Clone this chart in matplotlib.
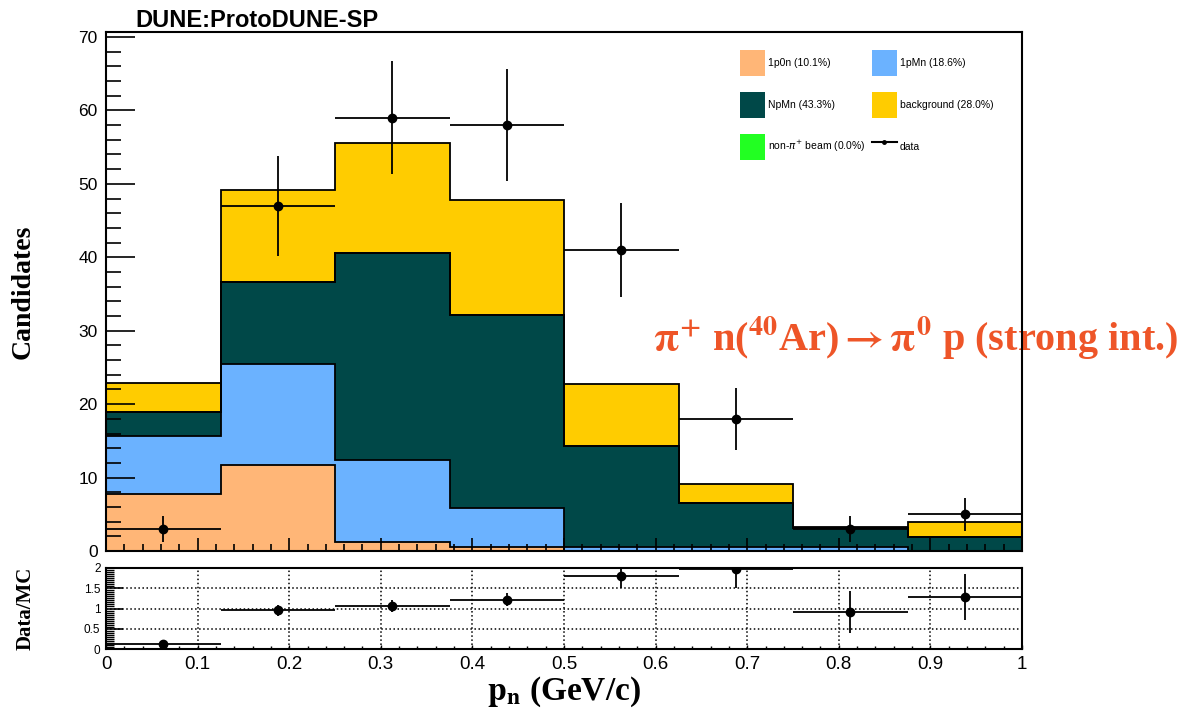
import matplotlib
matplotlib.use("Agg")
import matplotlib.pyplot as plt
import numpy as np
from matplotlib.patches import Patch
from matplotlib.lines import Line2D
from matplotlib.ticker import MultipleLocator, FuncFormatter


# p_n bins (GeV/c)
edges = np.linspace(0.0, 1.0, 9)

# per-component MC counts per bin
n_1p0n = [7.8, 11.7, 1.2, 0.6, 0.05, 0.0, 0.0, 0.0]
n_1pmn = [7.8, 13.8, 11.15, 5.2, 0.45, 0.5, 0.5, 0.0]
n_npmn = [3.3, 11.1, 28.25, 26.4, 13.8, 6.0, 2.6, 1.9]
n_bkg = [4.0, 12.5, 15.0, 15.6, 8.5, 2.6, 0.2, 2.0]
n_nonpi = [0.0, 0.0, 0.0, 0.0, 0.0, 0.0, 0.0, 0.0]

data = [3, 47, 59, 58, 41, 18, 3, 5]

names = ["1p0n (10.1%)", "1pMn (18.6%)", "NpMn (43.3%)",
         "background (28.0%)", "non-$\\pi^{+}$ beam (0.0%)"]
colors = ["#ffb677", "#6bb2ff", "#004848", "#ffcc00", "#22ff22"]

plt.rcParams["font.family"] = ["Liberation Sans", "DejaVu Sans"]

fig = plt.figure(figsize=(11.83, 7.12), dpi=100)
ax = fig.add_axes([106 / 1183, 1 - 551 / 712, 916 / 1183, 519 / 712])
rax = fig.add_axes([106 / 1183, 1 - 649 / 712, 916 / 1183, 81 / 712])

centers = 0.5 * (edges[:-1] + edges[1:])
halfw = 0.5 * np.diff(edges)

# stack: draw the top (cumulative) first, then each lower layer over it
layers = [n_1p0n, n_1pmn, n_npmn, n_nonpi, n_bkg]
layer_colors = [colors[0], colors[1], colors[2], colors[4], colors[3]]
cums = np.cumsum(np.array(layers), axis=0)
for cum, c in list(zip(cums, layer_colors))[::-1]:
    if cum.sum() == 0:
        continue
    ax.stairs(cum, edges, baseline=0, fill=True, color=c, zorder=1)
    ax.stairs(cum, edges, baseline=0, fill=False, color="black", lw=1.3, zorder=1.1)

mc_total = cums[-1]
data = np.array(data, dtype=float)
err = np.sqrt(data)

ax.errorbar(centers, data, xerr=halfw, yerr=err, fmt="o", color="black",
            ms=6, lw=1.3, capsize=0, zorder=3)

ax.set_xlim(0, 1)
ax.set_ylim(0, 70.68)
ax.yaxis.set_major_locator(MultipleLocator(10))
ax.yaxis.set_minor_locator(MultipleLocator(2))
ax.xaxis.set_major_locator(MultipleLocator(0.1))
ax.xaxis.set_minor_locator(MultipleLocator(0.02))
ax.tick_params(axis="y", which="major", direction="in", length=21, width=1.2,
               labelsize=12.5, pad=6)
ax.tick_params(axis="y", which="minor", direction="in", length=11, width=1.2)
ax.tick_params(axis="x", which="major", direction="in", length=9.5, width=1.2,
               labelbottom=False)
ax.tick_params(axis="x", which="minor", direction="in", length=5, width=1.2)
for s in ax.spines.values():
    s.set_linewidth(1.5)
    s.set_zorder(4)

ax.set_ylabel("Candidates", family="Liberation Serif", weight="bold",
              fontsize=20)
ax.yaxis.set_label_coords(-70 / 916, 0.5)

# legend
handles = [Patch(facecolor=c, edgecolor="none") for c in colors]
data_handle = Line2D([], [], color="black", marker="o", ms=2.5, lw=1.5)
leg_h = [handles[0], handles[2], handles[4], handles[1], handles[3], data_handle]
leg_l = [names[0], names[2], names[4], names[1], names[3], "data"]
ax.legend(leg_h, leg_l, ncol=2, loc="upper left",
          bbox_to_anchor=((740 - 106) / 916, (551 - 50) / 519),
          frameon=False, fontsize=7.5, handlelength=2.4, handleheight=3.4,
          labelspacing=1.6, handletextpad=0.3, columnspacing=0.6,
          borderpad=0, borderaxespad=0)

ax.text(0.597, 0.41,
        "$\\mathbf{\\pi^{+}}$ n($\\mathbf{^{40}}$Ar)$\\mathbf{\\rightarrow\\pi^{0}}$ p (strong int.)",
        transform=ax.transAxes, family="Liberation Serif", weight="bold",
        fontsize=29, color="#ee5528", math_fontfamily="stix",
        va="center", ha="left", clip_on=False, zorder=2)

fig.text(135 / 1183, 1 - 27 / 712, "DUNE:ProtoDUNE-SP", weight="bold",
         fontsize=17, va="baseline", ha="left")

# ratio panel
ratio = data / mc_total
rerr = err / mc_total
rax.errorbar(centers, ratio, xerr=halfw, yerr=rerr, fmt="o", color="black",
             ms=6, lw=1.3, capsize=0, zorder=3)
rax.set_xlim(0, 1)
rax.set_ylim(0, 2)
rax.xaxis.set_major_locator(MultipleLocator(0.1))
rax.xaxis.set_minor_locator(MultipleLocator(0.02))
rax.yaxis.set_major_locator(MultipleLocator(0.5))
rax.yaxis.set_minor_locator(MultipleLocator(0.05))
rax.xaxis.set_major_formatter(FuncFormatter(lambda v, p: "%g" % round(v, 3)))
rax.yaxis.set_major_formatter(FuncFormatter(lambda v, p: "%g" % v))
rax.grid(True, which="major", color="black", linestyle=":", lw=1.1)
rax.tick_params(axis="x", which="major", direction="in", length=3, width=1,
                labelsize=13.5, pad=5)
rax.tick_params(axis="x", which="minor", direction="in", length=2, width=1)
rax.tick_params(axis="y", which="major", direction="in", length=12, width=1.2,
                labelsize=8.5, pad=4)
rax.tick_params(axis="y", which="minor", direction="in", length=6, width=1)
for s in rax.spines.values():
    s.set_linewidth(1.5)
    s.set_zorder(4)

rax.set_ylabel("Data/MC", family="Liberation Serif", weight="bold",
               fontsize=15)
rax.yaxis.set_label_coords(-70 / 916, 0.5)
rax.set_xlabel("$\\mathbf{p_{n}}$ (GeV/c)", family="Liberation Serif",
               weight="bold", fontsize=24, math_fontfamily="stix", labelpad=1)

fig.savefig("out.png", dpi=100)
